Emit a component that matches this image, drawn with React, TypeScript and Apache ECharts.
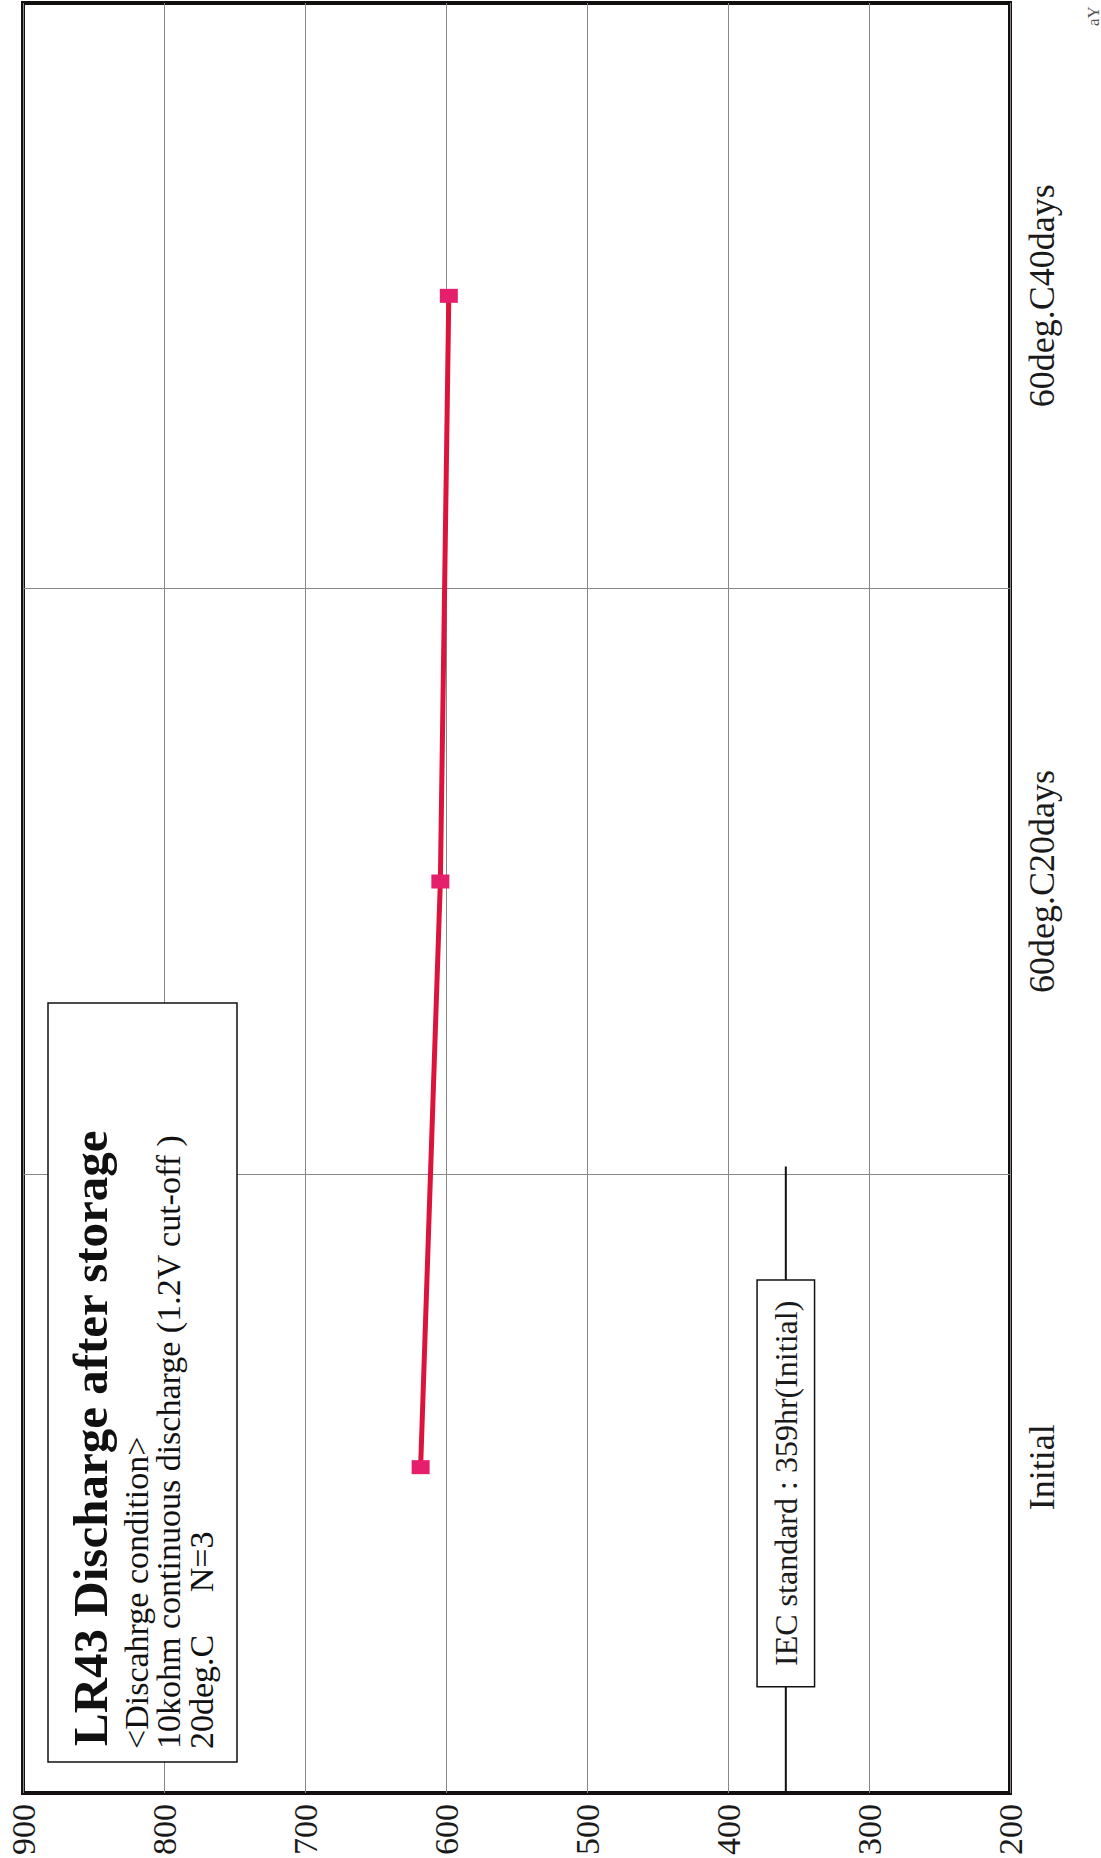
import React, { useEffect, useRef } from "react";
import * as echarts from "echarts";

const categories = ["Initial", "60deg.C20days", "60deg.C40days"];
const dischargeHours = [618, 604, 598];
const valueMin = 200;
const valueMax = 900;
const valueStep = 100;
const iecStandardHours = 359;
const iecLabel = "IEC standard : 359hr(Initial)";
const titleLines = [
  "LR43 Discharge after storage",
  "<Discahrge condition>",
  "10kohm continuous discharge (1.2V cut-off )",
  "20deg.C     N=3",
];

const SERIF = "'Liberation Serif', 'Times New Roman', serif";

export default function App() {
  const ref = useRef<HTMLDivElement>(null);

  useEffect(() => {
    document.body.style.margin = "0";
    if (!ref.current) return;
    const chart = echarts.init(ref.current, undefined, { renderer: "svg" });
    const rot = Math.PI / 2;
    const gridColor = "#888888";
    const textLine = (text: string, x: number, y: number, size: number, bold = false) => ({
      type: "text",
      x,
      y,
      rotation: rot,
      z: 11,
      style: {
        text,
        fontSize: size,
        fontWeight: bold ? "bold" : "normal",
        fontFamily: SERIF,
        fill: "#111",
        align: "left",
        verticalAlign: "middle",
        textAlign: "left",
        textVerticalAlign: "middle",
      },
    });
    const option: any = {
      animation: false,
      backgroundColor: "#ffffff",
      textStyle: { fontFamily: SERIF },
      grid: [
        {
          left: 23,
          top: 3,
          width: 987,
          height: 1791,
          show: true,
          borderColor: "#151010",
          borderWidth: 4,
          backgroundColor: "transparent",
        },
        {
          left: 23,
          top: 3,
          width: 987,
          height: 1757,
          show: false,
        },
      ],
      xAxis: [
        {
          gridIndex: 0,
          type: "value",
          min: valueMin,
          max: valueMax,
          interval: valueStep,
          inverse: true,
          position: "bottom",
          axisLine: { show: false },
          axisTick: { show: false },
          splitLine: { show: true, lineStyle: { color: gridColor, width: 1 } },
          axisLabel: {
            rotate: 90,
            margin: 11,
            fontSize: 34,
            color: "#1a1a1a",
            fontFamily: SERIF,
          },
        },
        {
          gridIndex: 1,
          type: "value",
          min: valueMin,
          max: valueMax,
          interval: valueStep,
          inverse: true,
          show: false,
          splitLine: { show: false },
        },
      ],
      yAxis: [
        {
          gridIndex: 0,
          type: "value",
          min: 0,
          max: 1,
          show: false,
          splitLine: { show: false },
        },
        {
          gridIndex: 1,
          type: "category",
          data: categories,
          position: "right",
          boundaryGap: true,
          axisLine: { show: false },
          axisTick: { show: false },
          splitLine: {
            show: true,
            showMinLine: false,
            showMaxLine: false,
            lineStyle: { color: gridColor, width: 1 },
          },
          axisLabel: {
            rotate: 90,
            margin: 14,
            fontSize: 36,
            color: "#1a1a1a",
            fontFamily: SERIF,
          },
        },
      ],
      series: [
        {
          type: "line",
          xAxisIndex: 0,
          yAxisIndex: 0,
          data: [
            [iecStandardHours, 0],
            [iecStandardHours, 0.35],
          ],
          symbol: "none",
          lineStyle: { color: "#111", width: 2 },
          z: 3,
          markPoint: {
            symbol: "rect",
            symbolSize: 0,
            data: [{ coord: [iecStandardHours, 0.173] }],
            label: {
              show: true,
              position: "inside",
              formatter: iecLabel,
              rotate: 90,
              fontSize: 32,
              color: "#1a1a1a",
              fontFamily: SERIF,
              backgroundColor: "#ffffff",
              borderColor: "#111",
              borderWidth: 1.5,
              padding: [13, 20, 11, 20],
            },
          },
        },
        {
          type: "line",
          xAxisIndex: 1,
          yAxisIndex: 1,
          data: dischargeHours,
          symbol: "rect",
          symbolSize: [18, 14],
          itemStyle: { color: "#e61f6c" },
          lineStyle: { color: "#dc143c", width: 5 },
          z: 5,
        },
      ],
      graphic: [
        {
          type: "rect",
          shape: { x: 48, y: 1003, width: 189, height: 759 },
          style: { fill: "#ffffff", stroke: "#111", lineWidth: 1.5 },
          z: 10,
        },
        textLine(titleLines[0], 90, 1746, 49, true),
        textLine(titleLines[1], 136, 1749, 34),
        textLine(titleLines[2], 168, 1749, 34),
        textLine(titleLines[3], 201, 1749, 34),
        {
          type: "text",
          x: 1093,
          y: 26,
          rotation: rot,
          z: 11,
          style: {
            text: "aY",
            fontSize: 17,
            fontFamily: SERIF,
            fill: "#555",
            align: "left",
            verticalAlign: "middle",
            textAlign: "left",
            textVerticalAlign: "middle",
          },
        },
      ],
    };
    chart.setOption(option);
    return () => chart.dispose();
  }, []);

  return <div ref={ref} style={{ width: 1101, height: 1858 }} />;
}
